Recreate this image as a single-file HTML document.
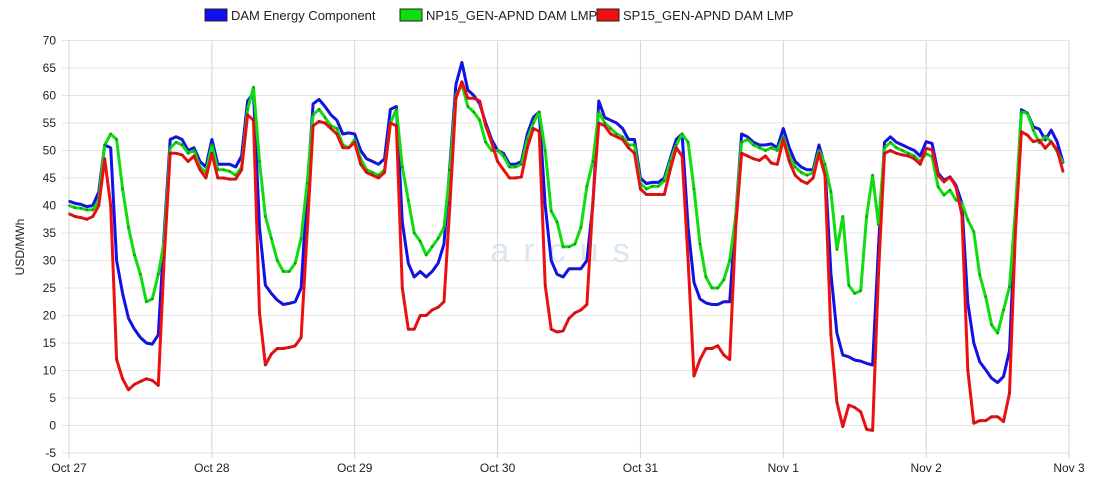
<!DOCTYPE html>
<html><head><meta charset="utf-8"><style>
body{margin:0;background:#fff;font-family:"Liberation Sans",sans-serif;}
svg{display:block}
</style></head><body>
<svg id="c" width="1100" height="500" xmlns="http://www.w3.org/2000/svg" font-family="Liberation Sans, sans-serif">
<rect width="1100" height="500" fill="#fff"/>
<g id="grid"></g>
<text x="567" y="262" font-size="34" fill="#dce6f0" text-anchor="middle" letter-spacing="14">arcus</text>
<g id="lab" font-size="12" fill="#222"></g>
<text transform="translate(24,247) rotate(-90)" font-size="12" text-anchor="middle" fill="#222">USD/MWh</text>
<g font-size="13" fill="#222">
<rect x="205" y="9" width="22" height="12" fill="#1010ee" stroke="#222" stroke-width="1"/>
<text x="231" y="20">DAM Energy Component</text>
<rect x="400" y="9" width="22" height="12" fill="#10dd10" stroke="#222" stroke-width="1"/>
<text x="426" y="20">NP15_GEN-APND DAM LMP</text>
<rect x="597" y="9" width="22" height="12" fill="#ee1010" stroke="#222" stroke-width="1"/>
<text x="623" y="20">SP15_GEN-APND DAM LMP</text>
</g>
<g id="series"></g>
</svg>
<script>
var B=[40.8,40.4,40.2,39.8,40,42.5,51,50.5,30,24,19.5,17.5,16,15,14.8,16.5,35,52,52.5,52,50,50.5,48,47,
52,47.5,47.5,47.5,47,49,59,60.5,36,25.5,24,22.8,22,22.2,22.5,25,42.5,58.5,59.3,58,56.5,55.5,53,53.2,
53,50,48.5,48,47.5,48.5,57.5,58,37,29.5,27,28,27,28,29.5,33,47.5,62,66,61,60,58.5,55,52,
50,49.5,47.5,47.5,48,53,56,57,40,30,27.5,27,28.5,28.5,28.5,30,40,59,56,55.5,55,54,52,52,
45,44,44.2,44.2,45,48.5,52,53,36,26,23,22.3,22,22,22.5,22.5,38,53,52.5,51.5,51,51,51.2,50.5,
54,50.5,48,47,46.5,46.5,51,47,27.7,16.8,12.8,12.5,11.9,11.7,11.3,11,32.5,51.5,52.5,51.5,51,50.5,50,49,
51.6,51.3,45.9,44.6,45.2,43.7,40.4,22.3,15,11.6,10.1,8.6,7.8,8.9,13.6,38,57.4,56.8,54.3,53.9,51.9,53.7,51.6,47.8];
var G=[40,39.6,39.5,39.2,39.2,41,51,53,52,43,36,31,27.5,22.5,23,27.5,33.5,50.5,51.5,51,49.5,50,47,46,
51,46.5,46.5,46.2,45.5,47,57.5,61.5,48,38,34,30,28,28,29.5,34,44,56.5,57.5,56,54.5,54,51,50.5,
52,48.5,46.5,46,45.5,46.5,55,57.5,47,41,35,33.5,31,32.5,34,36,46.5,60,62,58,57,55.5,51.5,50,
50,49,47,47,47.5,52,55,57,50,39,37,32.5,32.5,33,36,43.5,48,57,55,54,53,52.5,51,51,
44,43,43.5,43.5,44.5,48,51,53,51.5,43,33,27,25,25,26.5,30,38,51.5,52,51,50.5,50,50.5,50,
52.5,49,47,46,45.5,46,50,47.5,42.5,32,38,25.5,24,24.5,38,45.5,36.5,50.5,51.5,50.5,50,49.5,49,48,
49.4,48.9,43.4,41.9,42.8,41,40.4,37.4,35.2,27.4,23.4,18.3,16.8,21,25.2,39.2,57,56.8,53.7,51.4,52.6,51.6,49.8,47.7];
var R=[38.5,38,37.8,37.5,38,40,48.5,40,12,8.5,6.5,7.5,8,8.5,8.2,7.3,30.5,49.5,49.5,49.2,48,49,46.5,45,
49.5,45,45,44.8,44.8,46.5,56.5,55.5,20.5,11,13,14,14,14.2,14.5,16,35,54.5,55.3,55,54,53,50.5,50.5,
51.5,47.5,46,45.5,45,46,55,54.5,25,17.5,17.5,20,20,21,21.5,22.5,40.5,59.5,62.5,59.5,59.5,59,54.5,51.5,
48,46.5,45,45,45.2,50.5,54,53.5,25.5,17.5,17,17.2,19.5,20.5,21,22,40.5,55,54.5,53,52.5,52,50.5,49.5,
43,42,42,42,42,46.5,50.5,49,30,9,12,14,14,14.5,12.8,12,36,49.5,49,48.5,48.2,49,47.7,47.5,
52,48,45.5,44.5,44,45,49.5,45.5,16.5,4.2,-0.2,3.7,3.3,2.5,-0.7,-0.9,27.7,49.5,50,49.5,49.2,49,48.5,47.5,
50.4,50.1,45.5,44.3,45.2,43.4,38.3,10.1,0.4,0.9,0.9,1.6,1.6,0.7,5.9,35.2,53.4,52.8,51.6,51.9,50.4,51.6,50.1,46.1];
var NS="http://www.w3.org/2000/svg";
function Y(v){return 425.5-v*5.5;}
function X(i){return 69+i*142.86/24;}
var g=document.getElementById('grid'),lab=document.getElementById('lab');
function el(p,tag,a,t){var e=document.createElementNS(NS,tag);for(var k in a)e.setAttribute(k,a[k]);if(t)e.textContent=t;p.appendChild(e);return e;}
for(var v=-5;v<=70;v+=5){var y=Y(v);el(g,'line',{x1:62,x2:1070,y1:y,y2:y,stroke:'#e4e4e4','stroke-width':1});
el(lab,'text',{x:56,y:y+4,'text-anchor':'end'},String(v));}
var days=['Oct 27','Oct 28','Oct 29','Oct 30','Oct 31','Nov 1','Nov 2','Nov 3'];
for(var d=0;d<8;d++){var x=69+d*142.86;el(g,'line',{x1:x,x2:x,y1:41,y2:458,stroke:'#d4d4d4','stroke-width':1});
el(lab,'text',{x:x,y:472,'text-anchor':'middle'},days[d]);}
var s=document.getElementById('series');
[[B,'#1010ee'],[G,'#10dd10'],[R,'#ee1010']].forEach(function(a){
var pts=a[0].map(function(v,i){return X(i).toFixed(1)+','+Y(v).toFixed(1);}).join(' ');
el(s,'polyline',{points:pts,fill:'none',stroke:a[1],'stroke-width':3,'stroke-linejoin':'round'});
a[0].forEach(function(v,i){el(s,'circle',{cx:X(i),cy:Y(v),r:1.2,fill:'#333','fill-opacity':0.5});});
});
</script>
</body></html>
